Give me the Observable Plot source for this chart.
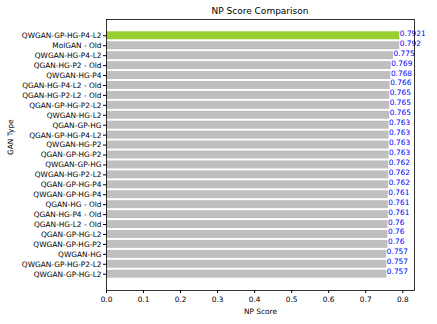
<!DOCTYPE html>
<html><head><meta charset="utf-8">
<script src="https://cdn.jsdelivr.net/npm/d3@7"></script>
<script src="https://cdn.jsdelivr.net/npm/@observablehq/plot@0.6"></script>
<style>
body{margin:0;background:#fff;font-family:"DejaVu Sans",sans-serif;}
#title{height:18px;width:308px;margin-left:106px;text-align:center;font-size:9px;line-height:22px;color:#000;}
</style>
</head><body>
<div id="title">NP Score Comparison</div>
<div id="chart"></div>
<script>
const models = ["QWGAN-GP-HG-P4-L2","MolGAN - Old","QWGAN-HG-P4-L2","QGAN-HG-P2 - Old","QWGAN-HG-P4","QGAN-HG-P4-L2 - Old","QGAN-HG-P2-L2 - Old","QGAN-GP-HG-P2-L2","QWGAN-HG-L2","QGAN-GP-HG","QGAN-GP-HG-P4-L2","QWGAN-HG-P2","QGAN-GP-HG-P2","QWGAN-GP-HG","QWGAN-HG-P2-L2","QGAN-GP-HG-P4","QWGAN-GP-HG-P4","QGAN-HG - Old","QGAN-HG-P4 - Old","QGAN-HG-L2 - Old","QGAN-GP-HG-L2","QWGAN-GP-HG-P2","QWGAN-HG","QWGAN-GP-HG-P2-L2","QWGAN-GP-HG-L2"];
const scores = [0.7921,0.792,0.775,0.769,0.768,0.766,0.765,0.765,0.765,0.763,0.763,0.763,0.763,0.762,0.762,0.762,0.761,0.761,0.761,0.76,0.76,0.76,0.757,0.757,0.757];
const labels = ["0.7921","0.792","0.775","0.769","0.768","0.766","0.765","0.765","0.765","0.763","0.763","0.763","0.763","0.762","0.762","0.762","0.761","0.761","0.761","0.76","0.76","0.76","0.757","0.757","0.757"];
const xTicks = [0,0.1,0.2,0.3,0.4,0.5,0.6,0.7,0.8];
const data = models.map((m,i)=>({model:m, score:scores[i], label:labels[i], best:i===0}));

const chart = Plot.plot({
  width:437, height:306,
  marginLeft:106, marginRight:23, marginTop:1, marginBottom:34,
  style:{fontFamily:"DejaVu Sans, sans-serif", fontSize:"7.4px", color:"#000", background:"#fff", overflow:"visible"},
  x:{domain:[0,0.8317], ticks:xTicks, tickFormat:d3.format(".1f"), label:null},
  y:{domain:models, paddingInner:0.2, paddingOuter:1.24, round:false, label:null},
  marks:[
    Plot.barX(data,{y:"model", x:"score", fill:d=>d.best?"#9acd32":"#bfbfbf"}),
    Plot.text(data,{y:"model", x:"score", text:"label", textAnchor:"start", lineAnchor:"bottom", fill:"blue", fontSize:7.4}),
    Plot.axisX({ticks:xTicks, tickFormat:d3.format(".1f"), tickSize:3, tickPadding:3, label:null}),
    Plot.axisY({tickSize:3, tickPadding:2, label:null}),
    Plot.frame({stroke:"#000", strokeWidth:0.8}),
    Plot.text(["NP Score"],{frameAnchor:"bottom", dy:23, lineAnchor:"bottom", fontSize:7.4}),
    Plot.text(["GAN Type"],{frameAnchor:"left", dx:-96, rotate:-90, fontSize:7.4})
  ]
});
document.getElementById("chart").append(chart);
</script>
</body></html>
